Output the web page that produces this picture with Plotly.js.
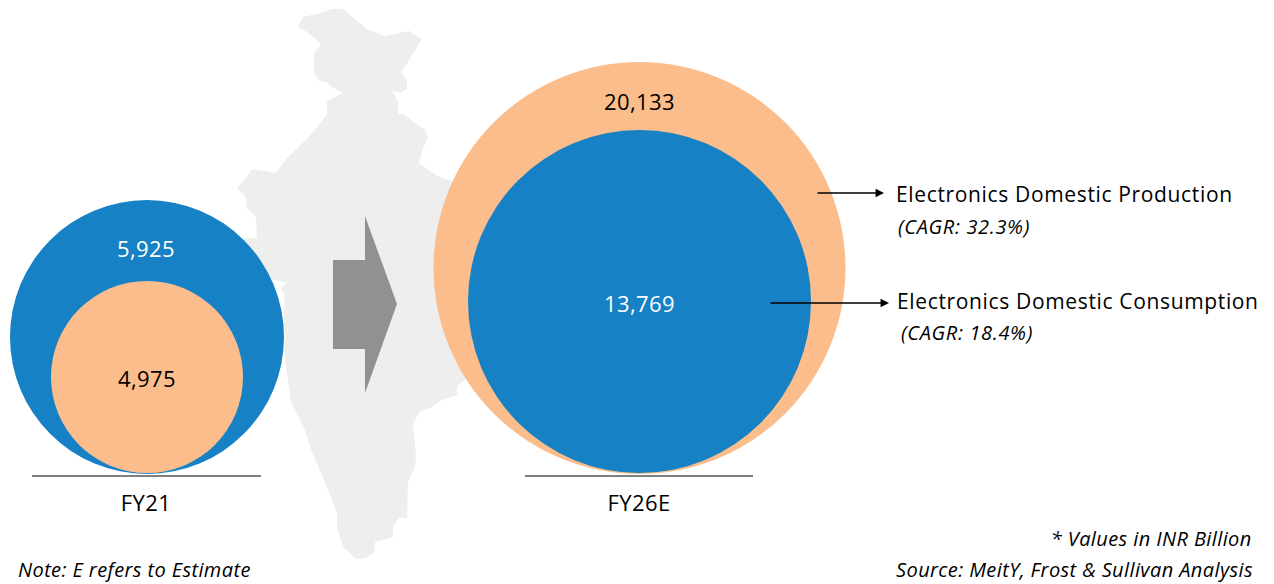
<!DOCTYPE html>
<html><head><meta charset="utf-8">
<script src="https://cdn.plot.ly/plotly-3.0.1.min.js"></script>
<style>html,body{margin:0;padding:0;background:#fff}#c{width:1274px;height:584px}
#c text{letter-spacing:.4px}
#c .annotation[data-index="2"] text,#c .annotation[data-index="3"] text,#c .annotation[data-index="4"] text,#c .annotation[data-index="5"] text{letter-spacing:.65px}
</style>
</head><body><div id="c"></div>
<script>
const categories = ["FY21", "FY26E"];
const production = [4975, 20133];
const consumption = [5925, 13769];
const seriesNames = ["Electronics Domestic Production", "Electronics Domestic Consumption"];
const cagr = ["(CAGR: 32.3%)", "(CAGR: 18.4%)"];
const note = "Note: E refers to Estimate";
const unitNote = "* Values in INR Billion";
const source = "Source: MeitY, Frost & Sullivan Analysis";

const mapX = [298,303,320,332,343,367,385,409,422,401,407,407,400,392,398,398,403,425,428,423,419,437,452,520,465,457,457,442,430,419,413,416,415,408,407,399,393,393,375,374,365,356,343,337,337,328,310,305,291,285,284,285,281,287,200,247,257,256,247,246,237,253,276,287,308,327,327,343,332,326,319,314,314,321,307];
const mapY = [27,17,13,9,9,29,36,31,39,73,80,89,93,90,102,114,114,130,138,148,163,176,181,280,380,386,395,400,408,412,425,455,467,482,518,518,527,537,542,553,558,559,547,528,513,490,447,430,402,360,310,295,288,283,260,238,238,217,208,197,188,169,173,158,138,115,101,93,87,82,81,73,53,44,32];
const arrowX = [333,365,365,397,365,365,333];
const arrowY = [260,260,216,304,393,349,349];

const outerX = [147, 639.5], outerY = [337, 268], outerD = [274, 412];
const innerX = [147, 639.5], innerY = [377, 301.5], innerD = [192, 343];

const BLUE = "#1681C5", PEACH = "#FBBD8B", MAP = "#EEEEEE", GREY = "#919191";
const FONT = "Open Sans, Noto Sans, sans-serif";
const fmt = v => v.toLocaleString("en-US");

const traces = [
  {x: mapX, y: mapY, mode: "lines", fill: "toself", fillcolor: MAP, line: {width: 0, color: MAP}},
  {x: arrowX, y: arrowY, mode: "lines", fill: "toself", fillcolor: GREY, line: {width: 0, color: GREY}},
  {x: [outerX[0]], y: [outerY[0]], mode: "markers", marker: {size: outerD[0], color: BLUE, line: {width: 0}}},
  {x: [innerX[0]], y: [innerY[0]], mode: "markers", marker: {size: innerD[0], color: PEACH, line: {width: 0}}},
  {x: [outerX[1]], y: [outerY[1]], mode: "markers", marker: {size: outerD[1], color: PEACH, line: {width: 0}}},
  {x: [innerX[1]], y: [innerY[1]], mode: "markers", marker: {size: innerD[1], color: BLUE, line: {width: 0}}},
  {x: [32, 261, null, 525, 753], y: [476, 476, null, 476, 476], mode: "lines", line: {color: "#000", width: 1.2}},
  {x: [146, 639], y: [505, 505], mode: "text", text: categories, textposition: "middle center", textfont: {family: FONT, size: 22, color: "#000"}},
  {x: [146, 147, 639.5, 639.5], y: [251, 381, 104, 306],
   mode: "text",
   text: [fmt(consumption[0]), fmt(production[0]), fmt(production[1]), fmt(consumption[1])],
   textposition: "middle center",
   textfont: {family: FONT, size: 22, color: ["#fff", "#000", "#000", "#fff"]}}
];

const textAnn = (x, y, text, anchor, size, italic) => ({
  x, y, xref: "x", yref: "y", text: italic ? "<i>" + text + "</i>" : text, showarrow: false,
  xanchor: anchor, yanchor: "middle", align: anchor,
  font: {family: FONT, size, color: "#000"}
});
const arrowAnn = (x0, x1, y) => ({
  x: x1, y, ax: x0, ay: y, xref: "x", yref: "y", axref: "x", ayref: "y", text: "",
  showarrow: true, arrowhead: 2, arrowsize: 1.3, arrowwidth: 1.3, arrowcolor: "#000", standoff: 0
});

const layout = {
  width: 1274, height: 584, margin: {l: 0, r: 0, t: 0, b: 0},
  paper_bgcolor: "#fff", plot_bgcolor: "#fff", showlegend: false, hovermode: false,
  xaxis: {range: [0, 1274], visible: false, fixedrange: true},
  yaxis: {range: [584, 0], visible: false, fixedrange: true},
  annotations: [
    arrowAnn(816, 884, 193), arrowAnn(769, 889, 303),
    textAnn(894, 194, seriesNames[0], "left", 21),
    textAnn(895, 301, seriesNames[1], "left", 21),
    textAnn(896, 226, cagr[0], "left", 20, true),
    textAnn(899, 332, cagr[1], "left", 20, true),
    textAnn(16, 569, note, "left", 20, true),
    textAnn(1254, 538, unitNote, "right", 20, true),
    textAnn(1255, 569, source, "right", 20, true)
  ]
};
Plotly.newPlot("c", traces, layout, {staticPlot: true, displayModeBar: false});
</script></body></html>
